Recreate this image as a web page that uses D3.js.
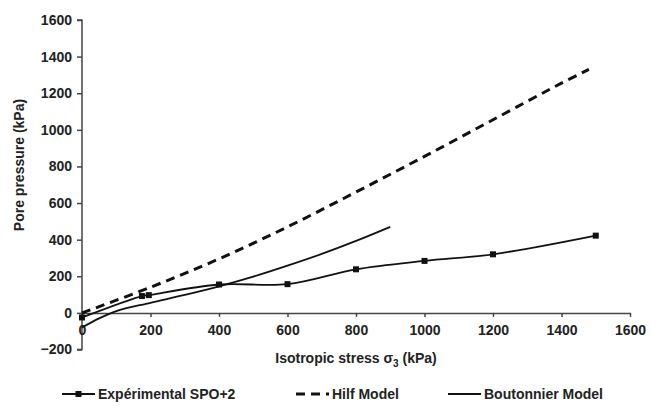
<!DOCTYPE html>
<meta charset="utf-8">
<style>
  body { margin: 0; background: #fff; }
  svg text { font-family: "Liberation Sans", Arial, sans-serif; font-weight: bold; fill: #222; }
</style>
<body>
<svg width="651" height="407"></svg>
<script src="https://d3js.org/d3.v7.min.js"></script>
<script>
// values (x = isotropic stress, y = pore pressure, kPa)
var expX = [0, 175, 195, 400, 600, 800, 1000, 1200, 1500];
var expY = [-25, 92, 97, 155, 157, 238, 284, 320, 422];

var hilfX = [0, 200, 400, 600, 800, 1000, 1200, 1400, 1480];
var hilfY = [0, 140, 295, 470, 660, 855, 1055, 1255, 1330];

var boutX = [0, 50, 100, 200, 300, 400, 500, 600, 700, 800, 900];
var boutY = [-80, -30, 10, 55, 98, 145, 198, 258, 322, 393, 470];

var xTicks = [0, 200, 400, 600, 800, 1000, 1200, 1400, 1600];
var yTicks = [-200, 0, 200, 400, 600, 800, 1000, 1200, 1400, 1600];

var legendNames = ["Expérimental SPO+2", "Hilf Model", "Boutonnier Model"];

var svg = d3.select("svg");

var x = d3.scaleLinear().domain([0, 1600]).range([82, 630]);
var y = d3.scaleLinear().domain([-200, 1600]).range([349.5, 20]);

function zip(xs, ys) { return xs.map(function(v, i) { return [v, ys[i]]; }); }

var line = d3.line()
    .x(function(d) { return x(d[0]); })
    .y(function(d) { return y(d[1]); })
    .curve(d3.curveCatmullRom.alpha(0.5));

// axes
var yAxis = svg.append("g")
    .attr("transform", "translate(" + x(0) + ",0)")
    .call(d3.axisLeft(y).tickValues(yTicks).tickSize(5).tickPadding(5).tickFormat(d3.format("d")));

var xAxis = svg.append("g")
    .attr("transform", "translate(0," + y(0) + ")")
    .call(d3.axisBottom(x).tickValues(xTicks).tickSize(4).tickPadding(8).tickSizeOuter(0).tickFormat(d3.format("d")));

svg.selectAll(".domain, .tick line").attr("stroke", "#444").attr("stroke-width", 1.5);
svg.selectAll(".tick text").attr("font-size", 14).attr("fill", "#222");
yAxis.select(".domain").attr("d", "M-5," + y(-200) + "H0V" + y(1600) + "H-5");

// series
svg.append("path")
    .datum(zip(hilfX, hilfY))
    .attr("fill", "none")
    .attr("stroke", "#111")
    .attr("stroke-width", 3)
    .attr("stroke-dasharray", "9,6")
    .attr("d", line);

svg.append("path")
    .datum(zip(boutX, boutY))
    .attr("fill", "none")
    .attr("stroke", "#111")
    .attr("stroke-width", 1.8)
    .attr("d", line);

var expData = zip(expX, expY);
svg.append("path")
    .datum(expData)
    .attr("fill", "none")
    .attr("stroke", "#111")
    .attr("stroke-width", 1.8)
    .attr("d", line);

svg.selectAll(".mark")
    .data(expData)
    .enter().append("rect")
    .attr("class", "mark")
    .attr("x", function(d) { return x(d[0]) - 3; })
    .attr("y", function(d) { return y(d[1]) - 3; })
    .attr("width", 6)
    .attr("height", 6)
    .attr("fill", "#111");

// axis titles
svg.append("text")
    .attr("x", 356)
    .attr("y", 363)
    .attr("text-anchor", "middle")
    .attr("font-size", 14)
    .html('Isotropic stress σ<tspan font-size="10" dy="4">3</tspan><tspan dy="-4"> (kPa)</tspan>');

svg.append("text")
    .attr("transform", "translate(24,165) rotate(-90)")
    .attr("text-anchor", "middle")
    .attr("font-size", 14)
    .text("Pore pressure (kPa)");

// legend
var legendX = [62, 296, 448];
var lg = svg.append("g").attr("transform", "translate(0,394)");
legendNames.forEach(function(name, i) {
    var g = lg.append("g").attr("transform", "translate(" + legendX[i] + ",0)");
    var l = g.append("line").attr("x1", 0).attr("x2", 33).attr("y1", 0).attr("y2", 0)
        .attr("stroke", "#111");
    if (i === 1) l.attr("stroke-width", 3).attr("stroke-dasharray", "9,6");
    else l.attr("stroke-width", 1.8);
    if (i === 0) g.append("rect").attr("x", 13.5).attr("y", -3).attr("width", 6).attr("height", 6).attr("fill", "#111");
    g.append("text").attr("x", 36).attr("y", 5).attr("font-size", 14).text(name);
});
</script>
</body>
